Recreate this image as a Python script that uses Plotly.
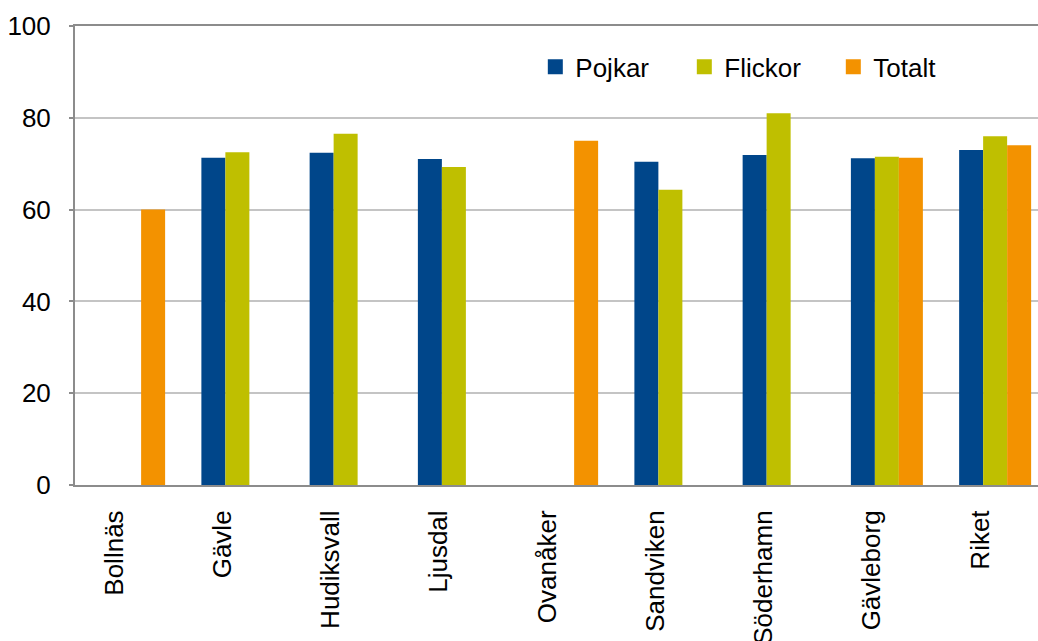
import plotly.graph_objects as go

categories = ["Bollnäs", "Gävle", "Hudiksvall", "Ljusdal", "Ovanåker",
              "Sandviken", "Söderhamn", "Gävleborg", "Riket"]
pojkar = [None, 71.3, 72.4, 71.0, None, 70.4, 71.9, 71.2, 73.0]
flickor = [None, 72.5, 76.5, 69.3, None, 64.3, 81.0, 71.5, 76.0]
totalt = [60.0, None, None, None, 75.0, None, None, 71.3, 74.0]
y_ticks = [0, 20, 40, 60, 80, 100]

series = [("Pojkar", pojkar, "#00468a"),
          ("Flickor", flickor, "#bfbf00"),
          ("Totalt", totalt, "#f39200")]

FONT = "Liberation Sans, Arial, sans-serif"

fig = go.Figure()
for name, vals, col in series:
    fig.add_trace(go.Bar(name=name, x=categories, y=vals, showlegend=False,
                         marker=dict(color=col, line=dict(width=0))))
# legend entries with larger square swatches
for name, vals, col in series:
    fig.add_trace(go.Scatter(name=name, x=[None], y=[None], mode="markers",
                             marker=dict(symbol="square", size=15, color=col),
                             showlegend=True))

fig.update_layout(
    width=1038, height=641,
    margin=dict(l=75, r=0, t=26, b=156, pad=0),
    paper_bgcolor="white", plot_bgcolor="white",
    barmode="group", bargap=0.335, bargroupgap=0,
    font=dict(family=FONT, size=26, color="#000000"),
    showlegend=True,
    legend=dict(orientation="h", x=0.478, y=0.962, xanchor="left", yanchor="top",
                font=dict(family=FONT, size=26, color="#000000"),
                bgcolor="rgba(0,0,0,0)", itemwidth=30,
                entrywidth=104, entrywidthmode="pixels",
                traceorder="normal"),
)
fig.update_xaxes(
    type="category", range=[-0.5, 8.396], automargin=False,
    showline=True, linecolor="#8c8c8c", linewidth=2, mirror=True,
    showgrid=False, ticks="", tickangle=-90,
    ticklabelstandoff=13, ticklabelshift=-15,
    tickfont=dict(family=FONT, size=26, color="#000000"),
)
fig.update_yaxes(
    range=[0, 100], tickvals=y_ticks, automargin=False,
    showline=True, linecolor="#8c8c8c", linewidth=2,
    showgrid=True, gridcolor="#c4c4c4", gridwidth=2,
    ticks="outside", ticklen=4, tickcolor="#8c8c8c", tickwidth=2,
    ticklabelstandoff=13,
    tickfont=dict(family=FONT, size=26, color="#000000"),
    zeroline=False,
)
fig.write_html("out.html")
